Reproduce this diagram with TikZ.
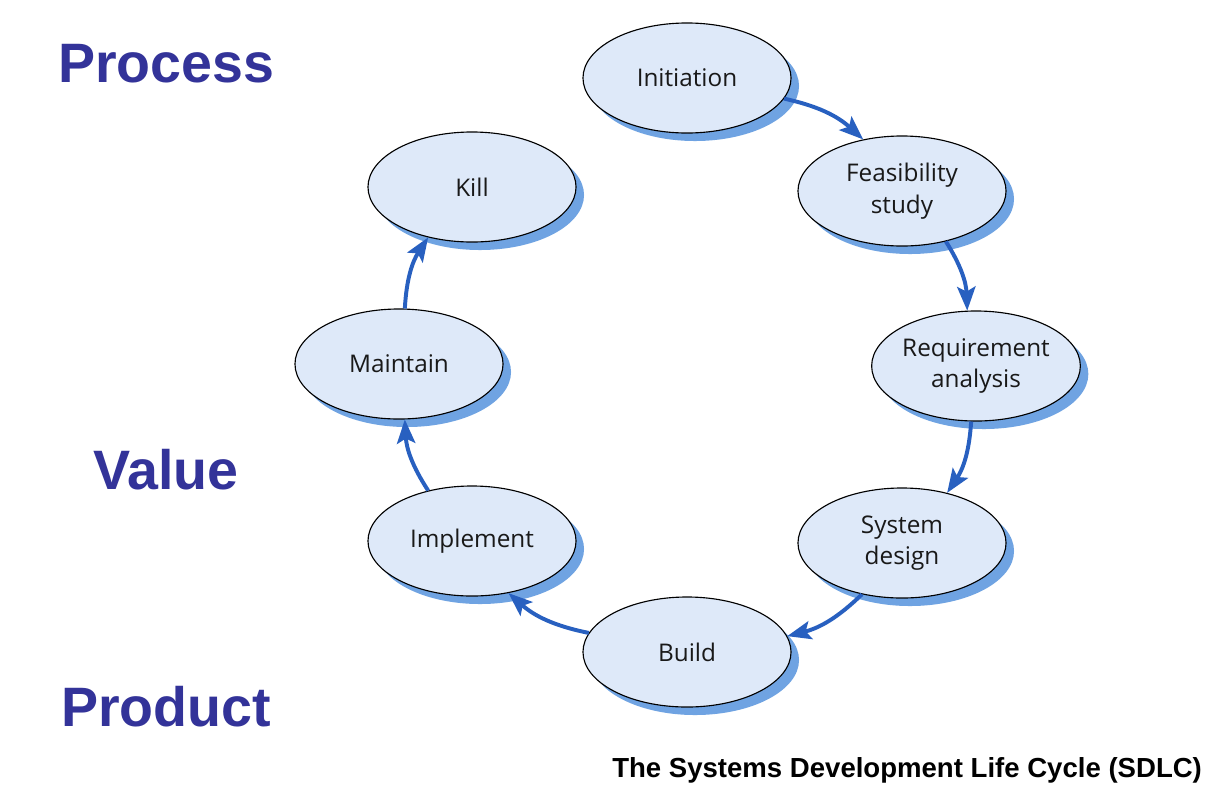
\documentclass[tikz,border=0pt]{standalone}
\usepackage{fontspec}
\setmainfont{Open Sans}
\newfontfamily\arialfont{Liberation Sans}
\usetikzlibrary{shapes.geometric,arrows.meta,shadows}
\definecolor{navy}{RGB}{51,51,153}
\definecolor{ellfill}{RGB}{222,233,249}
\definecolor{shadowblue}{RGB}{111,163,226}
\definecolor{arrowblue}{RGB}{40,96,192}
\begin{document}
\begin{tikzpicture}[x=0.025cm,y=-0.025cm,
  phase/.style={ellipse, draw=black, line width=0.8pt, fill=ellfill,
    minimum width=5.2cm, minimum height=2.75cm, inner sep=0pt, align=center,
    font=\fontsize{17.3}{22.5}\selectfont, text=black!90,
    drop shadow={shadow xshift=0.2cm, shadow yshift=-0.2cm, fill=shadowblue, opacity=1}},
  flow/.style={draw=arrowblue, line width=2.8pt,
    -{Stealth[length=17pt,width=13pt,inset=3.5pt]}, bend left=15},
  big/.style={font=\arialfont\bfseries\fontsize{39.5}{48}\selectfont, text=navy, inner sep=0pt}]
\useasboundingbox[fill=white] (0,0) rectangle (1227,784);

\node[phase] (init)  at (687,78)  {Initiation};
\node[phase] (feas)  at (902,191) {Feasibility\\study};
\node[phase] (req)   at (976,366) {Requirement\\analysis};
\node[phase] (sys)   at (902,543) {System\\design};
\node[phase] (build) at (687,652) {Build};
\node[phase] (impl)  at (472,541) {Implement};
\node[phase] (maint) at (399,364) {Maintain};
\node[phase] (kill)  at (472,187) {Kill};

\draw[flow] (init.-12)   to (feas.127);
\draw[flow] (feas.-49)   to (req.99);
\draw[flow] (req.-95)    to (sys.48);
\draw[flow] (sys.-128)   to (build.9);
\draw[flow] (build.169)  to (impl.-55);
\draw[flow] (impl.131)   to (maint.-84);
\draw[flow] (maint.84)   to (kill.-131);

\node[big, anchor=base west] (process) at (58,82)  {Process};
\node[big, anchor=base west] (value)   at (93,489) {Value};
\node[big, anchor=base west] (product) at (61,726) {Product};

\node[anchor=base west, inner sep=0pt, font=\arialfont\bfseries\fontsize{19.6}{24}\selectfont] (caption) at (612,777) {The Systems Development Life Cycle (SDLC)};
\end{tikzpicture}
\end{document}
